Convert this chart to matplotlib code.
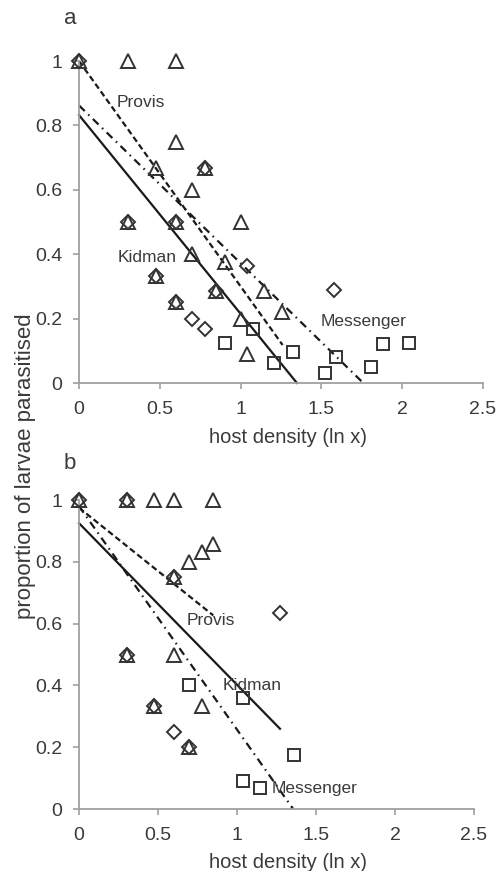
import matplotlib
matplotlib.use("Agg")
import matplotlib.pyplot as plt
import numpy as np

plt.rcParams['font.family'] = ['Liberation Sans', 'DejaVu Sans']

# panel a: points per marker type (x = log host density, y = proportion parasitised)
tri_a_x = [0, 0.301, 0.602, 0.602, 0.477, 0.778, 0.699, 1.0, 0.301, 0.602, 0.699, 0.903,
           0.477, 0.845, 1.146, 0.602, 1.255, 1.0, 1.041]
tri_a_y = [1, 1, 1, 0.75, 0.667, 0.667, 0.6, 0.5, 0.5, 0.5, 0.4, 0.375,
           0.333, 0.286, 0.286, 0.25, 0.222, 0.2, 0.091]
dia_a_x = [0, 0.778, 0.301, 0.602, 0.477, 1.041, 0.845, 0.602, 0.699, 0.778, 1.58]
dia_a_y = [1, 0.667, 0.5, 0.5, 0.333, 0.364, 0.286, 0.25, 0.2, 0.167, 0.29]
sq_a_x = [1.079, 0.903, 1.204, 1.322, 1.52, 1.59, 1.81, 1.88, 2.04]
sq_a_y = [0.167, 0.125, 0.0625, 0.095, 0.03, 0.08, 0.05, 0.12, 0.125]

# panel b
tri_b_x = [0, 0.301, 0.477, 0.602, 0.845, 0.699, 0.778, 0.845, 0.602, 0.602, 0.301,
           0.477, 0.778, 0.699]
tri_b_y = [1, 1, 1, 1, 1, 0.8, 0.833, 0.857, 0.75, 0.5, 0.5, 0.333, 0.333, 0.2]
dia_b_x = [0, 0.301, 0.602, 0.301, 0.477, 0.602, 0.699, 1.27]
dia_b_y = [1, 1, 0.75, 0.5, 0.333, 0.25, 0.2, 0.633]
sq_b_x = [0.699, 1.041, 1.041, 1.146, 1.36]
sq_b_y = [0.4, 0.36, 0.09, 0.068, 0.175]

# regression lines: Provis, Kidman, Messenger
sites = ['Provis', 'Kidman', 'Messenger']
a_intercept = [1.0, 0.832, 0.862]
a_slope = [-0.70, -0.617, -0.49]
a_xend = [1.26, 1.348, 1.76]
a_label_x = [0.385, 0.42, 1.76]
a_label_y = [0.87, 0.39, 0.19]

b_intercept = [0.975, 0.925, 0.98]
b_slope = [-0.41, -0.523, -0.723]
b_xend = [0.85, 1.272, 1.355]
b_label_x = [0.835, 1.095, 1.49]
b_label_y = [0.61, 0.40, 0.065]

line_styles = [(0, (2.7, 1.5)), '-', (0, (3.6, 2.2, 0.7, 2.2))]

edge = '#333333'
txt = '#3a3a3a'
spine = '#a0a0a0'

fig = plt.figure(figsize=(5.02, 8.71), dpi=100)
ax_a = fig.add_axes([79 / 502, 488 / 871, 404 / 502, 322 / 871])
ax_b = fig.add_axes([79 / 502, 62 / 871, 395 / 502, 309 / 871])


def draw_panel(ax, tri, dia, sq, icpt, slope, xend, lx, ly):
    for i in range(3):
        xs = np.array([0, xend[i]])
        ax.plot(xs, icpt[i] + slope[i] * xs, color='#1a1a1a', lw=1.6,
                linestyle=line_styles[i], clip_on=False, zorder=2)
        ax.text(lx[i], ly[i], sites[i], ha='center', va='center', fontsize=12.5,
                color=txt, zorder=4)
    ax.plot(tri[0], tri[1], '^', ms=10.5, mfc='none', mec=edge, mew=1.4,
            linestyle='none', clip_on=False, zorder=3)
    ax.plot(dia[0], dia[1], 'D', ms=7.3, mfc='none', mec=edge, mew=1.4,
            linestyle='none', clip_on=False, zorder=3)
    ax.plot(sq[0], sq[1], 's', ms=8.3, mfc='none', mec=edge, mew=1.4,
            linestyle='none', clip_on=False, zorder=3)

    ax.set_xlim(0, 2.5)
    ax.set_ylim(0, 1)
    ax.set_xticks([0, 0.5, 1, 1.5, 2, 2.5])
    ax.set_xticklabels(['0', '0.5', '1', '1.5', '2', '2.5'])
    ax.set_yticks([0, 0.2, 0.4, 0.6, 0.8, 1])
    ax.set_yticklabels(['0', '0.2', '0.4', '0.6', '0.8', '1'])
    for s in ['top', 'right']:
        ax.spines[s].set_visible(False)
    for s in ['left', 'bottom']:
        ax.spines[s].set_color(spine)
        ax.spines[s].set_linewidth(1.3)
    ax.tick_params(axis='both', direction='out', length=4, width=1.2, color=spine,
                   labelsize=14, labelcolor=txt)
    ax.tick_params(axis='x', pad=9)
    ax.tick_params(axis='y', pad=8)
    ax.patch.set_alpha(0)


draw_panel(ax_a, (tri_a_x, tri_a_y), (dia_a_x, dia_a_y), (sq_a_x, sq_a_y),
           a_intercept, a_slope, a_xend, a_label_x, a_label_y)
draw_panel(ax_b, (tri_b_x, tri_b_y), (dia_b_x, dia_b_y), (sq_b_x, sq_b_y),
           b_intercept, b_slope, b_xend, b_label_x, b_label_y)

fig.text(288 / 502, 1 - 437 / 871, 'host density (ln x)', ha='center', va='center',
         fontsize=14.5, color=txt)
fig.text(288 / 502, 1 - 862 / 871, 'host density (ln x)', ha='center', va='center',
         fontsize=14.5, color=txt)
fig.text(26 / 502, 1 - 466 / 871, 'proportion of larvae parasitised', rotation=90,
         ha='center', va='center', fontsize=16, color=txt)
fig.text(70 / 502, 1 - 18 / 871, 'a', ha='center', va='center', fontsize=16, color=txt)
fig.text(70 / 502, 1 - 463 / 871, 'b', ha='center', va='center', fontsize=16, color=txt)

fig.savefig('out.png', dpi=100)
plt.close(fig)
